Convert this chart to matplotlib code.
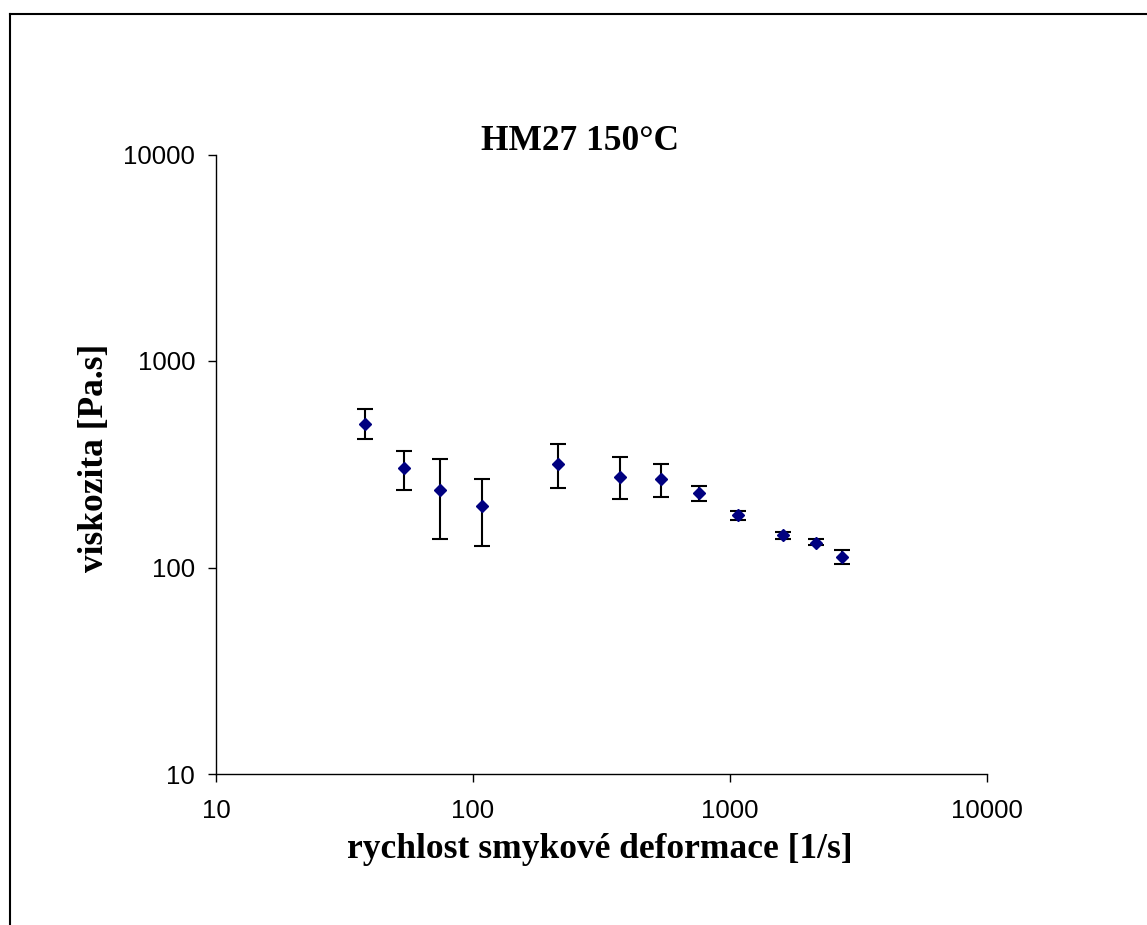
import numpy as np
import matplotlib
matplotlib.use("Agg")
import matplotlib.pyplot as plt
from matplotlib.lines import Line2D
from matplotlib.ticker import FixedLocator, NullLocator

# shear rate [1/s], viscosity [Pa.s], error bar ends
shear_rate = [38.1, 53.8, 74.7, 108.5, 215, 374, 539, 760, 1070, 1605, 2160, 2727]
viscosity = [495, 304, 238, 199, 317, 274, 269, 229, 179, 144, 132, 112]
visc_hi = [584, 365, 335, 268, 396, 344, 318, 249, 188, 149, 138, 122]
visc_lo = [420, 238, 137, 127, 243, 215, 219, 211, 170, 137, 128, 104]

decades = [10, 100, 1000, 10000]
tick_labels = ["10", "100", "1000", "10000"]

title = "HM27 150°C"
xlabel = "rychlost smykové deformace [1/s]"
ylabel = "viskozita [Pa.s]"

fig = plt.figure(figsize=(11.47, 9.25), dpi=100)
ax = fig.add_axes([216 / 1147, 1 - 774 / 925, (987 - 216) / 1147, (774 - 154.5) / 925])

v = np.array(viscosity)
yerr = [v - np.array(visc_lo), np.array(visc_hi) - v]
ax.errorbar(shear_rate, viscosity, yerr=yerr, fmt="D", color="#000080",
            markersize=6.5, ecolor="black", elinewidth=1.5, capsize=6,
            capthick=1.5, zorder=3)

ax.set_xscale("log")
ax.set_yscale("log")
ax.set_xlim(10, 10000)
ax.set_ylim(10, 10000)
ax.xaxis.set_major_locator(FixedLocator(decades))
ax.yaxis.set_major_locator(FixedLocator(decades))
ax.xaxis.set_minor_locator(NullLocator())
ax.yaxis.set_minor_locator(NullLocator())
ax.set_xticklabels(tick_labels)
ax.set_yticklabels(tick_labels)
ax.tick_params(which="major", direction="out", length=6, width=1,
               labelsize=18.5, pad=9)
ax.tick_params(axis="x", pad=12)
for lab in ax.get_xticklabels() + ax.get_yticklabels():
    lab.set_family("Liberation Sans")

ax.spines["top"].set_visible(False)
ax.spines["right"].set_visible(False)
ax.spines["left"].set_linewidth(1)
ax.spines["bottom"].set_linewidth(1)

serif = {"family": "Liberation Serif", "weight": "bold", "size": 25.5}
fig.text(580 / 1147, 1 - 141 / 925, title, ha="center", va="center", **serif)
fig.text(600 / 1147, 1 - 850 / 925, xlabel, ha="center", va="center", **serif)
fig.text(95 / 1147, 1 - 458 / 925, ylabel, ha="center", va="center",
         rotation=90, **serif)

# outer chart frame (only top and left edges are visible)
fig.add_artist(Line2D([9.5 / 1147, 9.5 / 1147], [0, 1 - 14 / 925],
                      transform=fig.transFigure, color="black", lw=1.5))
fig.add_artist(Line2D([9.5 / 1147, 1], [1 - 14 / 925, 1 - 14 / 925],
                      transform=fig.transFigure, color="black", lw=1.5))

fig.savefig("out.png", dpi=100)
